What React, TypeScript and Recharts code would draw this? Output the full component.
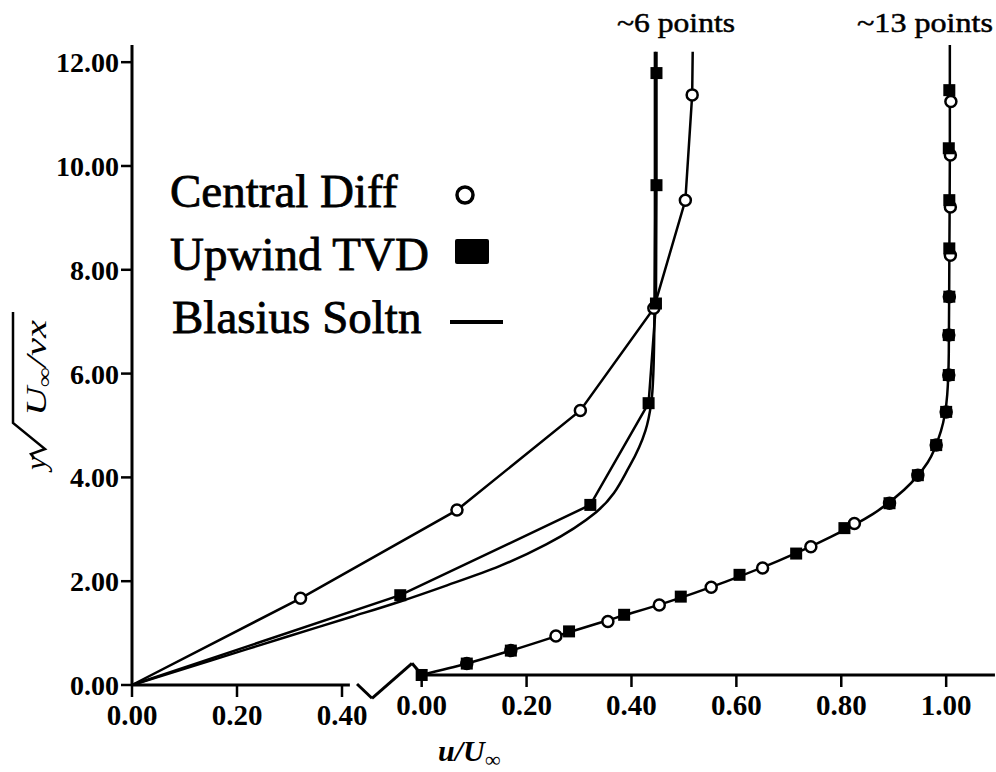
import React from "react";
import {
  ComposedChart,
  Line,
  Scatter,
  XAxis,
  YAxis,
  ReferenceLine,
  Legend,
  Customized,
} from "recharts";

const FONT = '"Liberation Serif", "Times New Roman", serif';

// left profile (~6 points), read against the left 0.00-0.40 scale
const CENTRAL_LEFT = [
  { u: 0.321, y: 1.67 },
  { u: 0.619, y: 3.37 },
  { u: 0.854, y: 5.29 },
  { u: 0.994, y: 7.26 },
  { u: 1.054, y: 9.34 },
  { u: 1.067, y: 11.37 },
];
const UPWIND_LEFT = [
  { u: 0.511, y: 1.73 },
  { u: 0.873, y: 3.47 },
  { u: 0.984, y: 5.43 },
  { u: 0.998, y: 7.35 },
  { u: 0.999, y: 9.63 },
  { u: 0.999, y: 11.79 },
];
const BLASIUS_LEFT = [
  { u: 0, y: 0 },
  { u: 0.15, y: 0.47 },
  { u: 0.295, y: 0.93 },
  { u: 0.42, y: 1.32 },
  { u: 0.511, y: 1.61 },
  { u: 0.6, y: 1.92 },
  { u: 0.7, y: 2.29 },
  { u: 0.789, y: 2.71 },
  { u: 0.884, y: 3.33 },
  { u: 0.948, y: 4.22 },
  { u: 0.978, y: 4.9 },
  { u: 0.989, y: 5.43 },
  { u: 0.993, y: 6.0 },
  { u: 0.995, y: 7.0 },
  { u: 0.996, y: 9.0 },
  { u: 0.996, y: 12.2 },
];

// right profile (~13 points), read against the right 0.00-1.00 scale
const CENTRAL_RIGHT = [
  { u: 0.086, y: 0.22 },
  { u: 0.17, y: 0.47 },
  { u: 0.256, y: 0.75 },
  { u: 0.355, y: 1.03 },
  { u: 0.453, y: 1.35 },
  { u: 0.552, y: 1.69 },
  { u: 0.65, y: 2.06 },
  { u: 0.742, y: 2.47 },
  { u: 0.825, y: 2.92 },
  { u: 0.892, y: 3.31 },
  { u: 0.946, y: 3.85 },
  { u: 0.981, y: 4.43 },
  { u: 1.0, y: 5.07 },
  { u: 1.005, y: 5.78 },
  { u: 1.005, y: 6.55 },
  { u: 1.006, y: 7.29 },
  { u: 1.008, y: 8.09 },
  { u: 1.008, y: 9.02 },
  { u: 1.008, y: 10.02 },
  { u: 1.009, y: 11.05 },
];
const UPWIND_RIGHT = [
  { u: 0.0, y: 0.0 },
  { u: 0.086, y: 0.22 },
  { u: 0.17, y: 0.47 },
  { u: 0.281, y: 0.84 },
  { u: 0.386, y: 1.16 },
  { u: 0.494, y: 1.51 },
  { u: 0.606, y: 1.93 },
  { u: 0.714, y: 2.34 },
  { u: 0.806, y: 2.83 },
  { u: 0.892, y: 3.31 },
  { u: 0.946, y: 3.85 },
  { u: 0.981, y: 4.43 },
  { u: 1.0, y: 5.07 },
  { u: 1.005, y: 5.78 },
  { u: 1.005, y: 6.55 },
  { u: 1.006, y: 7.29 },
  { u: 1.006, y: 8.22 },
  { u: 1.006, y: 9.15 },
  { u: 1.005, y: 10.15 },
  { u: 1.006, y: 11.27 },
];
const BLASIUS_RIGHT = [
  { u: 0, y: 0 },
  { u: 0.086, y: 0.22 },
  { u: 0.17, y: 0.47 },
  { u: 0.27, y: 0.79 },
  { u: 0.37, y: 1.1 },
  { u: 0.47, y: 1.41 },
  { u: 0.58, y: 1.8 },
  { u: 0.68, y: 2.2 },
  { u: 0.78, y: 2.66 },
  { u: 0.86, y: 3.1 },
  { u: 0.92, y: 3.57 },
  { u: 0.965, y: 4.1 },
  { u: 0.99, y: 4.7 },
  { u: 1.002, y: 5.4 },
  { u: 1.005, y: 6.2 },
  { u: 1.006, y: 8.0 },
  { u: 1.007, y: 10.0 },
  { u: 1.007, y: 12.14 },
];

const ORIGIN = { u: 0, y: 0 };
const CENTRAL_LEFT_TOP = { u: 1.068, y: 12.2 };
const UPWIND_LEFT_TOP = { u: 0.999, y: 12.2 };

const X_TICKS_LEFT = [0, 0.2, 0.4];
const X_TICKS_RIGHT = [0, 0.2, 0.4, 0.6, 0.8, 1.0];
const Y_TICKS = [0, 2, 4, 6, 8, 10, 12];

// axis break glyph, in left-axis units
const BREAK_MARK = [
  { u: 0.4286, y: 0.02 },
  { u: 0.4571, y: -0.256 },
  { u: 0.5333, y: 0.418 },
  { u: 0.5524, y: 0.193 },
];

function XTick(props: any) {
  const { x, y, payload, shift = 0 } = props;
  const y0 = y + shift;
  return (
    <g>
      <line x1={x} x2={x} y1={y0} y2={y0 + 12} stroke="#000" strokeWidth={2.5} />
      <text
        x={x}
        y={y0 + 40}
        textAnchor="middle"
        fontFamily={FONT}
        fontWeight="bold"
        fontSize={29}
        fill="#000"
      >
        {Number(payload.value).toFixed(2)}
      </text>
    </g>
  );
}

const OpenCircle = (p: any) => (
  <circle cx={p.cx} cy={p.cy} r={5.5} fill="#fff" stroke="#000" strokeWidth={2.5} />
);
const FilledSquare = (p: any) => (
  <rect x={p.cx - 6} y={p.cy - 6} width={12} height={12} fill="#000" />
);

function LegendBox() {
  const t = { fontFamily: FONT, fontSize: 47, fill: "#000", stroke: "#000", strokeWidth: 0.8 };
  return (
    <svg width={380} height={190} style={{ overflow: "visible" }}>
      <text x={10} y={37} {...t}>Central Diff</text>
      <text x={10} y={100} {...t}>Upwind TVD</text>
      <text x={12} y={163} {...t}>Blasius Soltn</text>
      <circle cx={305} cy={25} r={8} fill="none" stroke="#000" strokeWidth={3.5} />
      <rect x={295} y={69} width={34} height={25} rx={2} fill="#000" />
      <line x1={290} x2={343} y1={152} y2={152} stroke="#000" strokeWidth={4} />
    </svg>
  );
}

function Annotations() {
  return (
    <g fill="#000" fontFamily={FONT}>
      <text x={617} y={32} fontSize={28} textLength={118} lengthAdjust="spacingAndGlyphs" stroke="#000" strokeWidth={0.5}>
        ~6 points
      </text>
      <text x={857} y={32} fontSize={28} textLength={136} lengthAdjust="spacingAndGlyphs" stroke="#000" strokeWidth={0.5}>
        ~13 points
      </text>
      <text x={438} y={761} fontSize={30} fontWeight="bold" fontStyle="italic">
        u/U<tspan dy={6} fontSize={22}>∞</tspan>
      </text>
      <g transform="translate(46, 470) rotate(-90)">
        <text x={0} y={0} fontSize={30} fontStyle="italic">y</text>
        <polyline
          points="12,-12 16,-15 21,-1 47,-33 158,-33"
          fill="none"
          stroke="#000"
          strokeWidth={2.5}
        />
        <text x={54} y={0} fontSize={30} fontStyle="italic" textLength={96} lengthAdjust="spacingAndGlyphs">
          U<tspan dy={5} fontSize={20}>∞</tspan>
          <tspan dy={-5}>/νx</tspan>
        </text>
      </g>
    </g>
  );
}

export default function App() {
  const line = { stroke: "#000", strokeWidth: 2.5, dot: false, isAnimationActive: false } as const;
  return (
    <div style={{ position: "absolute", left: 0, top: 0, width: 996, height: 772, background: "#fff" }}>
      <ComposedChart width={996} height={772} margin={{ top: 45, right: 1, bottom: 85, left: 72 }}>
        <XAxis
          xAxisId="l"
          dataKey="u"
          type="number"
          domain={[0, 1.6438]}
          ticks={X_TICKS_LEFT}
          height={1}
          axisLine={false}
          tickLine={false}
          tickSize={0}
          tickMargin={0}
          tick={<XTick shift={0} />}
          interval={0}
        />
        <XAxis
          xAxisId="r"
          dataKey="u"
          type="number"
          domain={[-0.5523, 1.0931]}
          ticks={X_TICKS_RIGHT}
          height={1}
          axisLine={false}
          tickLine={false}
          tickSize={0}
          tickMargin={0}
          tick={<XTick shift={-11} />}
          interval={0}
        />
        <YAxis
          yAxisId="l"
          dataKey="y"
          type="number"
          domain={[0, 12.331]}
          ticks={Y_TICKS}
          interval={0}
          width={60}
          axisLine={{ stroke: "#000", strokeWidth: 3 }}
          tickLine={{ stroke: "#000", strokeWidth: 2.5 }}
          tickSize={11}
          tickMargin={2}
          tick={{ fill: "#000", fontSize: 28, fontWeight: "bold", fontFamily: FONT }}
          tickFormatter={(v: number) => v.toFixed(2)}
        />
        <YAxis yAxisId="r" dataKey="y" type="number" domain={[-0.193, 12.139]} hide />

        <ReferenceLine
          xAxisId="l"
          yAxisId="l"
          segment={[{ x: 0, y: 0 }, { x: 0.415, y: 0 }]}
          stroke="#000"
          strokeWidth={3}
        />
        <ReferenceLine
          xAxisId="r"
          yAxisId="r"
          segment={[{ x: 0, y: 0 }, { x: 1.093, y: 0 }]}
          stroke="#000"
          strokeWidth={3}
        />
        {BREAK_MARK.slice(1).map((p, i) => (
          <ReferenceLine
            key={`brk-${i}`}
            xAxisId="l"
            yAxisId="l"
            segment={[
              { x: BREAK_MARK[i].u, y: BREAK_MARK[i].y },
              { x: p.u, y: p.y },
            ]}
            stroke="#000"
            strokeWidth={3}
            ifOverflow="visible"
          />
        ))}

        <Line data={BLASIUS_LEFT} xAxisId="l" yAxisId="l" dataKey="y" type="monotoneY" {...line} />
        <Line
          data={[ORIGIN, ...CENTRAL_LEFT, CENTRAL_LEFT_TOP]}
          xAxisId="l"
          yAxisId="l"
          dataKey="y"
          type="linear"
          {...line}
        />
        <Line
          data={[ORIGIN, ...UPWIND_LEFT, UPWIND_LEFT_TOP]}
          xAxisId="l"
          yAxisId="l"
          dataKey="y"
          type="linear"
          {...line}
        />
        <Line data={BLASIUS_RIGHT} xAxisId="r" yAxisId="r" dataKey="y" type="monotoneY" {...line} />

        <Scatter data={CENTRAL_LEFT} xAxisId="l" yAxisId="l" shape={OpenCircle} isAnimationActive={false} />
        <Scatter data={UPWIND_LEFT} xAxisId="l" yAxisId="l" shape={FilledSquare} isAnimationActive={false} />
        <Scatter data={CENTRAL_RIGHT} xAxisId="r" yAxisId="r" shape={OpenCircle} isAnimationActive={false} />
        <Scatter data={UPWIND_RIGHT} xAxisId="r" yAxisId="r" shape={FilledSquare} isAnimationActive={false} />

        <Legend
          layout="vertical"
          align="center"
          verticalAlign="middle"
          wrapperStyle={{ left: 160, top: 170, width: 380, height: 190 }}
          content={() => <LegendBox />}
        />
        <Customized component={Annotations} />
      </ComposedChart>
    </div>
  );
}
